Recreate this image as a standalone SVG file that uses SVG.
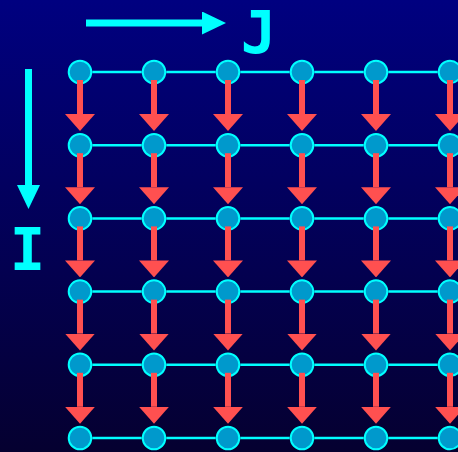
<svg xmlns="http://www.w3.org/2000/svg" width="458" height="452" viewBox="0 0 458 452">
  <defs>
    <linearGradient id="bg" x1="0" y1="0" x2="0" y2="1">
      <stop offset="0" stop-color="#000080"/>
      <stop offset="1" stop-color="#050030"/>
    </linearGradient>
    <marker id="redHead" viewBox="0 0 17 30" refX="0" refY="15" markerWidth="17" markerHeight="30" markerUnits="userSpaceOnUse" orient="auto">
      <path d="M0,0 L17,15 L0,30 Z" fill="#FF5050"/>
    </marker>
    <marker id="cyanHead" viewBox="0 0 24 23" refX="0" refY="11.5" markerWidth="24" markerHeight="23" markerUnits="userSpaceOnUse" orient="auto">
      <path d="M0,0 L24,11.5 L0,23 Z" fill="#00FFFF"/>
    </marker>
    <style>
      .node { fill: #0099CC; stroke: #00FFFF; stroke-width: 2; }
      .hline { stroke: #00FFFF; stroke-width: 2.5; fill: none; }
      .varrow { stroke: #FF5050; stroke-width: 6; fill: none; marker-end: url(#redHead); }
      .axis { stroke: #00FFFF; stroke-width: 7; fill: none; marker-end: url(#cyanHead); }
      .lbl { font-family: "DejaVu Sans Mono", "Liberation Mono", monospace; font-weight: bold; font-size: 59px; fill: #00FFFF; }
    </style>
  </defs>
  <rect x="0" y="0" width="458" height="452" fill="url(#bg)"/>

  <g id="axes">
    <line class="axis" x1="86" y1="23" x2="202" y2="23"/>
    <line class="axis" x1="28.5" y1="69" x2="28.5" y2="185"/>
    <text class="lbl" x="258.5" y="53" text-anchor="middle">J</text>
    <text class="lbl" x="27.5" y="270" text-anchor="middle">I</text>
  </g>

  <g id="nodes">
    <g id="n1-1"><circle class="node" cx="80" cy="72" r="11.3"/></g>
    <g id="n1-2"><circle class="node" cx="154" cy="72" r="11.3"/></g>
    <g id="n1-3"><circle class="node" cx="228" cy="72" r="11.3"/></g>
    <g id="n1-4"><circle class="node" cx="302" cy="72" r="11.3"/></g>
    <g id="n1-5"><circle class="node" cx="376" cy="72" r="11.3"/></g>
    <g id="n1-6"><circle class="node" cx="450" cy="72" r="11.3"/></g>
    <g id="n2-1"><circle class="node" cx="80" cy="145.2" r="11.3"/></g>
    <g id="n2-2"><circle class="node" cx="154" cy="145.2" r="11.3"/></g>
    <g id="n2-3"><circle class="node" cx="228" cy="145.2" r="11.3"/></g>
    <g id="n2-4"><circle class="node" cx="302" cy="145.2" r="11.3"/></g>
    <g id="n2-5"><circle class="node" cx="376" cy="145.2" r="11.3"/></g>
    <g id="n2-6"><circle class="node" cx="450" cy="145.2" r="11.3"/></g>
    <g id="n3-1"><circle class="node" cx="80" cy="218.4" r="11.3"/></g>
    <g id="n3-2"><circle class="node" cx="154" cy="218.4" r="11.3"/></g>
    <g id="n3-3"><circle class="node" cx="228" cy="218.4" r="11.3"/></g>
    <g id="n3-4"><circle class="node" cx="302" cy="218.4" r="11.3"/></g>
    <g id="n3-5"><circle class="node" cx="376" cy="218.4" r="11.3"/></g>
    <g id="n3-6"><circle class="node" cx="450" cy="218.4" r="11.3"/></g>
    <g id="n4-1"><circle class="node" cx="80" cy="291.6" r="11.3"/></g>
    <g id="n4-2"><circle class="node" cx="154" cy="291.6" r="11.3"/></g>
    <g id="n4-3"><circle class="node" cx="228" cy="291.6" r="11.3"/></g>
    <g id="n4-4"><circle class="node" cx="302" cy="291.6" r="11.3"/></g>
    <g id="n4-5"><circle class="node" cx="376" cy="291.6" r="11.3"/></g>
    <g id="n4-6"><circle class="node" cx="450" cy="291.6" r="11.3"/></g>
    <g id="n5-1"><circle class="node" cx="80" cy="364.8" r="11.3"/></g>
    <g id="n5-2"><circle class="node" cx="154" cy="364.8" r="11.3"/></g>
    <g id="n5-3"><circle class="node" cx="228" cy="364.8" r="11.3"/></g>
    <g id="n5-4"><circle class="node" cx="302" cy="364.8" r="11.3"/></g>
    <g id="n5-5"><circle class="node" cx="376" cy="364.8" r="11.3"/></g>
    <g id="n5-6"><circle class="node" cx="450" cy="364.8" r="11.3"/></g>
    <g id="n6-1"><circle class="node" cx="80" cy="438" r="11.3"/></g>
    <g id="n6-2"><circle class="node" cx="154" cy="438" r="11.3"/></g>
    <g id="n6-3"><circle class="node" cx="228" cy="438" r="11.3"/></g>
    <g id="n6-4"><circle class="node" cx="302" cy="438" r="11.3"/></g>
    <g id="n6-5"><circle class="node" cx="376" cy="438" r="11.3"/></g>
    <g id="n6-6"><circle class="node" cx="450" cy="438" r="11.3"/></g>
  </g>

  <g id="connectors">
    <g id="horizontal">
      <path class="hline" d="M92.3,72H141.7M166.3,72H215.7M240.3,72H289.7M314.3,72H363.7M388.3,72H437.7"/>
      <path class="hline" d="M92.3,145.2H141.7M166.3,145.2H215.7M240.3,145.2H289.7M314.3,145.2H363.7M388.3,145.2H437.7"/>
      <path class="hline" d="M92.3,218.4H141.7M166.3,218.4H215.7M240.3,218.4H289.7M314.3,218.4H363.7M388.3,218.4H437.7"/>
      <path class="hline" d="M92.3,291.6H141.7M166.3,291.6H215.7M240.3,291.6H289.7M314.3,291.6H363.7M388.3,291.6H437.7"/>
      <path class="hline" d="M92.3,364.8H141.7M166.3,364.8H215.7M240.3,364.8H289.7M314.3,364.8H363.7M388.3,364.8H437.7"/>
      <path class="hline" d="M92.3,438H141.7M166.3,438H215.7M240.3,438H289.7M314.3,438H363.7M388.3,438H437.7"/>
    </g>
    <g id="vertical">
      <line class="varrow" x1="80" y1="80" x2="80" y2="114"/>
      <line class="varrow" x1="154" y1="80" x2="154" y2="114"/>
      <line class="varrow" x1="228" y1="80" x2="228" y2="114"/>
      <line class="varrow" x1="302" y1="80" x2="302" y2="114"/>
      <line class="varrow" x1="376" y1="80" x2="376" y2="114"/>
      <line class="varrow" x1="450" y1="80" x2="450" y2="114"/>
      <line class="varrow" x1="80" y1="153.2" x2="80" y2="187.2"/>
      <line class="varrow" x1="154" y1="153.2" x2="154" y2="187.2"/>
      <line class="varrow" x1="228" y1="153.2" x2="228" y2="187.2"/>
      <line class="varrow" x1="302" y1="153.2" x2="302" y2="187.2"/>
      <line class="varrow" x1="376" y1="153.2" x2="376" y2="187.2"/>
      <line class="varrow" x1="450" y1="153.2" x2="450" y2="187.2"/>
      <line class="varrow" x1="80" y1="226.4" x2="80" y2="260.4"/>
      <line class="varrow" x1="154" y1="226.4" x2="154" y2="260.4"/>
      <line class="varrow" x1="228" y1="226.4" x2="228" y2="260.4"/>
      <line class="varrow" x1="302" y1="226.4" x2="302" y2="260.4"/>
      <line class="varrow" x1="376" y1="226.4" x2="376" y2="260.4"/>
      <line class="varrow" x1="450" y1="226.4" x2="450" y2="260.4"/>
      <line class="varrow" x1="80" y1="299.6" x2="80" y2="333.6"/>
      <line class="varrow" x1="154" y1="299.6" x2="154" y2="333.6"/>
      <line class="varrow" x1="228" y1="299.6" x2="228" y2="333.6"/>
      <line class="varrow" x1="302" y1="299.6" x2="302" y2="333.6"/>
      <line class="varrow" x1="376" y1="299.6" x2="376" y2="333.6"/>
      <line class="varrow" x1="450" y1="299.6" x2="450" y2="333.6"/>
      <line class="varrow" x1="80" y1="372.8" x2="80" y2="406.8"/>
      <line class="varrow" x1="154" y1="372.8" x2="154" y2="406.8"/>
      <line class="varrow" x1="228" y1="372.8" x2="228" y2="406.8"/>
      <line class="varrow" x1="302" y1="372.8" x2="302" y2="406.8"/>
      <line class="varrow" x1="376" y1="372.8" x2="376" y2="406.8"/>
      <line class="varrow" x1="450" y1="372.8" x2="450" y2="406.8"/>
    </g>
  </g>
</svg>
